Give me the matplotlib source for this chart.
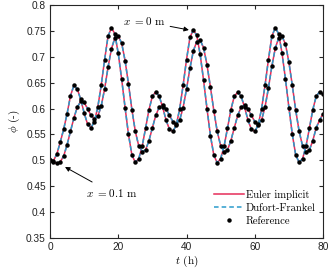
import numpy as np
import matplotlib
matplotlib.use("Agg")
import matplotlib.pyplot as plt
from matplotlib.ticker import FormatStrFormatter
from matplotlib.lines import Line2D

# time (h)
t = list(range(0, 81))

# phi at x = 0 m
phi_x0 = [0.500, 0.499, 0.512, 0.535, 0.560, 0.590, 0.625, 0.645, 0.638, 0.618,
          0.592, 0.570, 0.563, 0.575, 0.603, 0.645, 0.695, 0.740, 0.757, 0.745,
          0.707, 0.657, 0.602, 0.550, 0.510, 0.496, 0.503, 0.527, 0.562, 0.598,
          0.624, 0.633, 0.624, 0.603, 0.578, 0.560, 0.556, 0.568, 0.600, 0.645,
          0.695, 0.738, 0.753, 0.742, 0.705, 0.655, 0.600, 0.548, 0.510, 0.495,
          0.503, 0.527, 0.562, 0.598, 0.624, 0.632, 0.624, 0.603, 0.578, 0.560,
          0.556, 0.568, 0.600, 0.645, 0.695, 0.740, 0.757, 0.745, 0.707, 0.657,
          0.602, 0.550, 0.510, 0.496, 0.503, 0.527, 0.562, 0.598, 0.624, 0.633,
          0.628]

# phi at x = 0.1 m
phi_x1 = [0.500, 0.496, 0.494, 0.497, 0.508, 0.530, 0.556, 0.582, 0.603, 0.614,
          0.612, 0.600, 0.587, 0.580, 0.585, 0.605, 0.638, 0.680, 0.716, 0.737,
          0.741, 0.727, 0.693, 0.648, 0.598, 0.556, 0.528, 0.517, 0.520, 0.538,
          0.563, 0.587, 0.603, 0.607, 0.600, 0.587, 0.575, 0.570, 0.578, 0.602,
          0.638, 0.678, 0.712, 0.730, 0.733, 0.718, 0.685, 0.642, 0.596, 0.556,
          0.528, 0.517, 0.520, 0.538, 0.563, 0.587, 0.603, 0.607, 0.600, 0.587,
          0.575, 0.570, 0.578, 0.603, 0.640, 0.682, 0.717, 0.737, 0.740, 0.725,
          0.690, 0.645, 0.597, 0.556, 0.528, 0.517, 0.520, 0.538, 0.563, 0.578,
          0.590]

xticks = [0, 20, 40, 60, 80]
yticks = [0.35, 0.4, 0.45, 0.5, 0.55, 0.6, 0.65, 0.7, 0.75, 0.8]

plt.rcParams['mathtext.fontset'] = 'cm'
plt.rcParams['axes.unicode_minus'] = False
plt.rcParams['font.family'] = ['Liberation Sans', 'DejaVu Sans']

red = '#E62C58'
blue = '#2A9BCB'
axcol = '#262626'
serif = ['cmr10', 'DejaVu Serif']

fig = plt.figure(figsize=(3.32, 2.73), dpi=100)
ax = fig.add_axes([0.1506, 0.1293, 0.8224, 0.8507])

for phi in (phi_x0, phi_x1):
    ax.plot(t, phi, color=red, lw=1.1, solid_capstyle='butt')
for phi in (phi_x0, phi_x1):
    ax.plot(t, phi, color=blue, lw=1.1, ls=(0, (3.0, 2.0)))
for phi in (phi_x0, phi_x1):
    ax.plot(t, phi, ls='none', marker='o', ms=2.2, color='black')

ax.set_xlim(0, 80)
ax.set_ylim(0.35, 0.8)
ax.set_xticks(xticks)
ax.set_yticks(yticks)
ax.yaxis.set_major_formatter(FormatStrFormatter('%g'))
ax.tick_params(direction='in', length=3, width=0.8, colors=axcol,
               top=True, right=True, labelsize=7.3, pad=3, labelcolor='#222222')
for s in ax.spines.values():
    s.set_color(axcol)
    s.set_linewidth(0.8)

ax.set_xlabel(r'$t$ (h)', fontsize=8, labelpad=1, family=serif)
ax.set_ylabel(r'$\phi$ (-)', fontsize=8, labelpad=3, family=serif)

ax.annotate(r'$x$ $=0$ m', xy=(40.7, 0.7525), xytext=(21.4, 0.769),
            fontsize=8, va='center', ha='left', family=serif,
            arrowprops=dict(arrowstyle='-|>', color='black', lw=0.7,
                            mutation_scale=7, shrinkA=1, shrinkB=0))
ax.annotate(r'$x$ $=0.1$ m', xy=(4.4, 0.487), xytext=(10.5, 0.437),
            fontsize=8, va='center', ha='left', family=serif,
            arrowprops=dict(arrowstyle='-|>', color='black', lw=0.7,
                            mutation_scale=7, shrinkA=3, shrinkB=0))

handles = [Line2D([], [], color=red, lw=1.1),
           Line2D([], [], color=blue, lw=1.1, ls=(0, (3.0, 2.0))),
           Line2D([], [], ls='none', marker='o', ms=2.2, color='black')]
labels = ['Euler implicit', 'Dufort-Frankel', 'Reference']
ax.legend(handles, labels, loc='lower right', frameon=False,
          prop={'family': serif, 'size': 7.7},
          handlelength=2.8, handletextpad=0.2, labelspacing=0.32,
          borderaxespad=0.3, bbox_to_anchor=(1.0, 0.02))

fig.savefig('out.png', dpi=100)
